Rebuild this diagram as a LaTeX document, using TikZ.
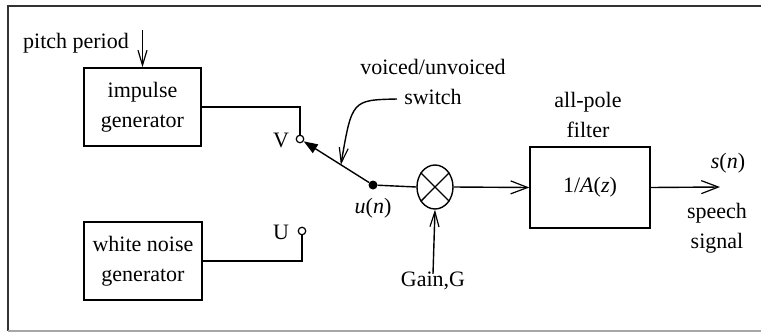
\documentclass[tikz,border=0pt]{standalone}
\usepackage{fontspec}
\setmainfont{Liberation Serif}
\usetikzlibrary{arrows.meta,shapes.geometric,calc}
\begin{document}
\begin{tikzpicture}[x=1pt,y=-1pt,
  every node/.style={font=\fontsize{22}{30}\selectfont},
  line/.style={line width=1.4pt},
  blk/.style={draw,line width=1.4pt,rectangle,inner sep=0pt,align=center},
  term/.style={draw,circle,line width=1.2pt,fill=white,inner sep=0pt,minimum size=7.5pt},
  lbl/.style={inner sep=1pt,align=center},
  barb/.style={-{Straight Barb[length=17pt,width=13pt,line width=1.2pt]}},
  longbarb/.style={-{Straight Barb[length=15pt,width=9pt,line width=1.2pt]}}]
\useasboundingbox (0,0) rectangle (761,333);
% frame
\draw[line width=1.6pt,black!80] (761,6) -- (8,6) -- (8,331);
\draw[line width=1.2pt,black!35] (8,331) -- (761,331);
% blocks
\node[blk,minimum width=117pt,minimum height=78pt] (imp) at (142.5,107) {impulse\\generator};
\node[blk,minimum width=118pt,minimum height=78pt] (wn) at (143,261) {white noise\\generator};
\node[blk,minimum width=120pt,minimum height=81pt] (filt) at (590,187.5) {1/\textit{A}(\textit{z})};
\node[draw,ellipse,line width=1.4pt,inner sep=0pt,minimum width=36pt,minimum height=44pt] (mult) at (435,187) {};
\draw[line] (mult.45) -- (mult.225) (mult.135) -- (mult.315);
% terminals
\node[term] (V) at (300,139) {};
\node[term] (U) at (302,231) {};
\node[circle,fill=black,inner sep=0pt,minimum size=9pt] (dot) at (373,185) {};
% labels
\node[lbl] (pp) at (76,43) {pitch period};
\coordinate (ppt) at (142.5,30);
\node[lbl] (Vl) at (281,140) {V};
\node[lbl] (Ul) at (281,232) {U};
\node[lbl] (un) at (373,208) {\textit{u}(\textit{n})};
\node[lbl] (vu) at (433,82) {voiced/unvoiced\\switch};
\coordinate (cs) at (397,99);
\node[lbl] (ap) at (588,115) {all-pole\\filter};
\node[lbl] (sn) at (728,163) {\textit{s}(\textit{n})};
\node[lbl] (ss) at (717,228) {speech\\signal};
\coordinate (out) at (720,187);
\node[lbl] (gain) at (433,281) {Gain,G};
% connectors
\draw[line,longbarb] (ppt) -- (imp.north);
\draw[line] (imp.east) -| (V);
\draw[line] (wn.east) -| (U);
\draw[line,-{Triangle[length=14pt,width=10pt]}] (dot) -- (V);
\coordinate (arm) at ($(dot)!0.44!(V)$);
\draw[line,longbarb] (cs) .. controls (352,100) .. (arm);
\draw[line] (dot) -- (mult.west);
\draw[line,barb] (mult.east) -- (filt.west);
\draw[line,barb] (filt.east) -- (out);
\draw[line,longbarb] ([yshift=-3pt]gain.north) -- (mult.south);
\end{tikzpicture}
\end{document}
